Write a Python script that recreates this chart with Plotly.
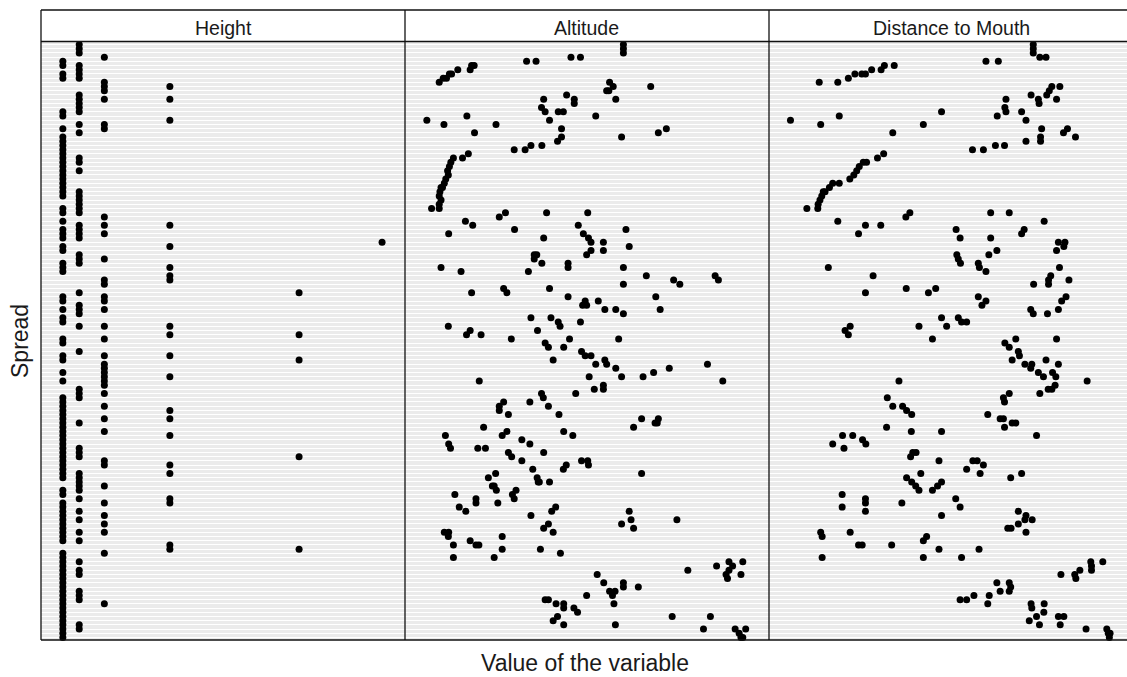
import plotly.graph_objects as go

# ---------------- data ----------------
N_SPREAD = 142
panel_titles = ["Height", "Altitude", "Distance to Mouth"]

# Height takes a few discrete values; rows (Spread levels) for each value
height_levels = [6.0, 10.5, 17.4, 35.4, 70.9, 93.7]
height_rows_6_0 = [5, 6, 8, 9, 17, 18, 21, 23, 24, 25, 26, 27, 28, 29, 30, 31, 32, 33, 34, 35,
                   36, 37, 40, 41, 43, 45, 46, 47, 49, 50, 53, 54, 55, 61, 62, 64, 66, 67, 71, 72,
                   75, 76, 79, 81, 85, 86, 87, 88, 89, 90, 91, 92, 93, 94, 95, 96, 97, 98, 99, 100,
                   101, 102, 103, 104, 107, 108, 110, 111, 112, 113, 114, 115, 116, 117, 118, 119,
                   122, 123, 124, 125, 126, 127, 128, 129, 130, 131, 132, 133, 134, 135, 136, 137,
                   138, 139, 140, 141, 142]
height_rows_10_5 = [1, 2, 3, 6, 7, 8, 9, 13, 14, 15, 16, 17, 20, 22, 28, 29, 31, 36, 37, 38, 39,
                    40, 41, 44, 45, 46, 47, 51, 52, 53, 60, 63, 64, 65, 68, 74, 83, 84, 85, 91, 97,
                    98, 99, 103, 104, 105, 106, 107, 109, 112, 114, 117, 119, 124, 126, 127, 131,
                    132, 133, 139, 140]
height_rows_17_4 = [4, 10, 11, 12, 14, 20, 21, 42, 44, 46, 52, 57, 58, 61, 62, 64, 68, 71, 75, 77,
                    78, 79, 80, 81, 82, 84, 87, 90, 93, 100, 101, 106, 110, 113, 115, 117, 122, 134]
height_rows_35_4 = [11, 14, 19, 44, 49, 54, 56, 57, 68, 70, 75, 80, 88, 90, 94, 101, 103, 109,
                    110, 120, 121]
height_rows_70_9 = [60, 70, 76, 99, 121]
height_rows_93_7 = [48]
height_rows = [height_rows_6_0, height_rows_10_5, height_rows_17_4,
               height_rows_35_4, height_rows_70_9, height_rows_93_7]

# Altitude: (spread row, value)
altitude_points = [
    (1, 60.0), (2, 60.0), (3, 60.0), (4, 45.6), (4, 48.2), (5, 33.4), (5, 36.0),
    (6, 19.0), (6, 18.3), (7, 17.9), (7, 14.5), (8, 12.8), (8, 12.2), (9, 11.4), (9, 10.5),
    (10, 9.4), (10, 56.2), (11, 57.2), (12, 56.0), (12, 55.4), (11, 67.5), (13, 44.4),
    (14, 38.1), (14, 46.5), (15, 46.5), (14, 57.9), (16, 37.5), (17, 38.5), (17, 42.1),
    (17, 43.5), (18, 17.0), (18, 52.4), (19, 39.7), (19, 6.0), (20, 10.7), (20, 25.0),
    (21, 43.0), (21, 71.8), (22, 69.6), (22, 19.1), (23, 59.5), (23, 43.0), (24, 41.9),
    (25, 37.6), (25, 34.6), (26, 33.0), (26, 30.0), (27, 17.4), (28, 15.8),
    (28, 13.3), (29, 12.6), (30, 12.2), (31, 11.7), (32, 11.9), (33, 11.2), (34, 10.8),
    (35, 10.3), (35, 9.9), (36, 9.6), (37, 9.4), (38, 9.9), (39, 9.4), (40, 9.4),
    (40, 7.3), (41, 38.9), (41, 50.2), (41, 27.6), (42, 25.9), (43, 16.6), (44, 18.6),
    (44, 47.6), (45, 60.7), (45, 30.1), (46, 12.0), (47, 38.1), (46, 49.0), (47, 50.4),
    (48, 51.1), (48, 54.5), (50, 54.5), (50, 51.1), (49, 61.6), (51, 49.9), (51, 35.5),
    (51, 36.2), (52, 35.5), (53, 37.6), (53, 44.8), (54, 44.8), (54, 9.9), (55, 15.4),
    (55, 33.9), (54, 60.0), (56, 66.3), (57, 73.8), (58, 75.5), (56, 85.2), (57, 86.1),
    (58, 60.0), (59, 27.1), (60, 28.0), (60, 18.3), (59, 39.7), (61, 44.8), (62, 53.1),
    (61, 68.9), (62, 49.5), (63, 49.9), (63, 48.8), (64, 70.1), (64, 54.9), (64, 57.9),
    (65, 60.0), (66, 40.1), (67, 42.1), (68, 42.6), (66, 34.6), (67, 48.2), (69, 36.4),
    (68, 11.9), (70, 16.9), (69, 17.9), (70, 20.9), (71, 29.2), (71, 58.7), (72, 38.5),
    (73, 39.4), (71, 45.2), (73, 43.6), (74, 48.5), (75, 49.5), (75, 51.1), (76, 40.7),
    (76, 54.9), (77, 55.4), (77, 52.4), (77, 83.1), (78, 57.9), (78, 72.6), (79, 68.3),
    (80, 59.5), (80, 65.4), (80, 50.6), (81, 87.3), (81, 20.4), (82, 54.5), (83, 54.5),
    (83, 52.0), (84, 46.9), (84, 37.5), (85, 38.0), (86, 27.1), (86, 34.3), (87, 39.4),
    (87, 25.9), (88, 25.9), (89, 28.4), (89, 42.3), (90, 65.0), (90, 69.6), (91, 68.7),
    (91, 69.3), (92, 62.8), (92, 21.6), (93, 28.0), (94, 26.7), (93, 43.6), (94, 46.1),
    (94, 11.1), (96, 12.0), (95, 32.1), (96, 34.3), (97, 12.5), (97, 20.0), (97, 22.1),
    (98, 28.4), (99, 29.3), (100, 32.1), (98, 38.1), (100, 48.5), (100, 50.2), (101, 50.4),
    (101, 44.3), (102, 43.5), (103, 65.0), (102, 35.1), (104, 36.3), (105, 36.6),
    (105, 36.9), (105, 39.7), (104, 22.9), (103, 24.9), (106, 24.0), (106, 24.5),
    (107, 25.1), (108, 29.5), (107, 30.5), (108, 13.7), (109, 19.5), (110, 19.5),
    (110, 25.5), (109, 30.0), (111, 14.9), (112, 16.7), (111, 41.4), (112, 40.3),
    (113, 34.6), (112, 61.6), (114, 62.1), (115, 59.5), (116, 62.8), (114, 74.7),
    (116, 38.1), (115, 39.4), (117, 40.7), (117, 10.8), (117, 12.0), (118, 11.9),
    (120, 13.3), (119, 17.9), (120, 20.3), (120, 19.5), (118, 26.7), (121, 26.7),
    (123, 24.5), (123, 13.3), (121, 37.2), (122, 42.7), (127, 52.8), (129, 54.6),
    (129, 60.0), (130, 60.0), (130, 64.1), (131, 56.2), (131, 57.7), (132, 57.0),
    (134, 57.4), (132, 49.9), (133, 38.5), (133, 39.4), (134, 41.5), (134, 43.6),
    (135, 43.6), (135, 46.4), (136, 47.4), (138, 40.7), (137, 41.9), (139, 43.6),
    (139, 57.8), (137, 73.4), (137, 83.9), (126, 77.7), (125, 85.6), (124, 89.0),
    (124, 92.8), (126, 89.0), (125, 90.0), (127, 88.2), (128, 88.6), (127, 92.3),
    (140, 82.0), (140, 90.7), (141, 91.8), (142, 92.8), (142, 92.3), (140, 93.6),
]

# Distance to Mouth: (spread row, value)
distance_points = [
    (1, 72.6), (2, 72.6), (3, 72.6), (4, 74.4), (4, 76.1), (5, 59.6), (5, 63.0),
    (6, 34.4), (6, 31.7), (7, 30.8), (7, 28.2), (8, 26.5), (8, 25.5), (8, 23.6),
    (9, 21.8), (10, 18.9), (10, 13.8), (11, 77.7), (12, 77.0), (13, 76.3), (11, 79.9),
    (14, 79.0), (13, 72.0), (14, 65.1), (14, 74.0), (15, 74.2), (16, 64.8), (17, 65.1),
    (17, 69.4), (19, 70.6), (18, 62.7), (17, 47.4), (18, 19.3), (19, 5.9), (20, 14.2),
    (20, 42.4), (21, 74.9), (23, 74.6), (24, 74.6), (21, 82.0), (22, 80.9), (23, 84.2),
    (22, 34.0), (24, 70.6), (25, 64.7), (25, 62.2), (26, 58.9), (26, 55.9), (27, 31.5),
    (28, 29.8), (29, 26.8), (29, 25.9), (30, 24.8), (31, 24.1), (32, 23.3), (33, 22.2),
    (34, 19.3), (34, 17.5), (35, 16.6), (36, 15.4), (36, 14.9), (37, 14.5), (38, 14.0),
    (39, 13.5), (40, 13.4), (40, 10.4), (41, 60.9), (41, 66.0), (41, 38.7), (42, 37.6),
    (43, 75.6), (43, 18.9), (44, 26.5), (44, 30.7), (46, 24.6), (45, 51.4), (47, 52.5),
    (45, 70.1), (46, 69.4), (47, 60.9), (48, 79.5), (48, 81.3), (49, 81.0), (50, 79.0),
    (50, 62.6), (51, 60.4), (51, 51.6), (52, 52.0), (53, 52.6), (53, 57.5), (54, 57.8),
    (55, 59.6), (54, 16.3), (56, 28.6), (54, 79.8), (56, 77.4), (57, 76.8), (58, 76.8),
    (57, 82.4), (58, 72.7), (60, 26.5), (59, 37.7), (60, 43.8), (59, 45.8), (61, 57.5),
    (63, 58.5), (62, 59.6), (61, 81.6), (62, 80.4), (64, 79.5), (65, 76.5), (64, 71.9),
    (65, 72.6), (66, 47.4), (68, 48.8), (66, 52.0), (67, 52.9), (67, 54.3), (68, 41.2),
    (71, 44.9), (68, 22.3), (69, 20.9), (70, 21.8), (71, 67.8), (71, 79.0), (72, 64.8),
    (73, 66.0), (74, 68.5), (75, 68.8), (76, 66.8), (76, 76.1), (77, 79.5), (77, 70.3),
    (77, 72.2), (78, 71.9), (79, 74.0), (79, 77.9), (80, 78.8), (80, 75.4), (81, 87.4),
    (82, 78.6), (83, 77.7), (83, 76.7), (84, 74.4), (85, 64.4), (84, 66.0), (86, 64.7),
    (81, 35.7), (85, 32.5), (87, 34.0), (87, 36.7), (88, 37.8), (89, 39.2), (89, 60.1),
    (90, 63.5), (90, 64.4), (92, 64.7), (91, 66.8), (91, 67.8), (92, 32.3), (93, 39.1),
    (93, 47.4), (94, 73.5), (94, 20.2), (94, 23.0), (96, 17.5), (97, 20.6), (95, 25.7),
    (96, 26.6), (98, 39.5), (98, 40.4), (99, 38.9), (100, 46.7), (100, 56.0), (100, 57.2),
    (101, 58.9), (102, 54.3), (103, 58.0), (103, 69.4), (104, 66.4), (103, 41.7),
    (104, 37.8), (105, 39.2), (106, 40.3), (107, 41.2), (105, 47.4), (106, 46.3),
    (107, 44.9), (108, 20.1), (111, 20.1), (109, 26.5), (110, 26.5), (112, 26.5),
    (110, 36.5), (109, 51.3), (111, 52.5), (113, 47.4), (112, 68.5), (113, 70.6),
    (114, 72.3), (114, 70.3), (115, 68.5), (116, 65.6), (116, 66.5), (117, 70.6),
    (117, 14.2), (118, 14.6), (117, 22.3), (120, 24.6), (120, 25.6), (120, 33.7),
    (118, 43.3), (119, 42.4), (121, 46.7), (121, 57.7), (123, 52.9), (123, 14.6),
    (123, 42.4), (127, 80.2), (126, 85.4), (127, 84.0), (128, 84.3), (124, 88.4),
    (125, 88.6), (126, 88.6), (124, 91.7), (129, 62.6), (131, 63.5), (129, 66.0),
    (130, 66.4), (131, 66.0), (132, 60.5), (134, 60.1), (133, 52.5), (133, 54.3),
    (132, 56.3), (134, 72.0), (135, 72.2), (137, 73.5), (138, 71.5), (139, 74.3),
    (134, 75.6), (136, 75.5), (137, 79.5), (137, 81.0), (139, 80.0), (140, 87.1),
    (140, 92.8), (141, 93.2), (141, 93.7), (142, 93.5),
]

# ---------------- build series ----------------
height_spread, height_value = [], []
for lvl, rows in zip(height_levels, height_rows):
    for r in rows:
        height_spread.append(r)
        height_value.append(lvl)

altitude_spread = [p[0] for p in altitude_points]
altitude_value = [p[1] for p in altitude_points]
distance_spread = [p[0] for p in distance_points]
distance_value = [p[1] for p in distance_points]

series = [(height_value, height_spread), (altitude_value, altitude_spread),
          (distance_value, distance_spread)]

# ---------------- layout geometry ----------------
W, H = 1127, 677
ML, MR, MT, MB = 41, 0, 10, 37
plot_w = W - ML - MR
plot_h = H - MT - MB
panel_px = 364
strip_px = 32
x_edges = [0, panel_px / plot_w, 2 * panel_px / plot_w, 1.0]
y_top = (plot_h - strip_px) / plot_h
x_ranges = [[0, 100], [0, 100], [0, 100 * (plot_w - 2 * panel_px) / panel_px]]

FONT = "Liberation Sans, Arial, Helvetica, sans-serif"
LINE = "#111111"

fig = go.Figure()
for i, (xv, yv) in enumerate(series):
    sfx = "" if i == 0 else str(i + 1)
    fig.add_trace(go.Scatter(
        x=xv, y=yv, mode="markers",
        marker=dict(color="black", size=7, line=dict(width=0)),
        xaxis="x" + sfx, yaxis="y" + sfx, showlegend=False, hoverinfo="skip",
        cliponaxis=False,
    ))

layout = dict(
    width=W, height=H,
    margin=dict(l=ML, r=MR, t=MT, b=MB, pad=0),
    paper_bgcolor="white", plot_bgcolor="#EBEBEB",
    font=dict(family=FONT, color="black"),
    showlegend=False,
)
for i in range(3):
    sfx = "" if i == 0 else str(i + 1)
    layout["xaxis" + sfx] = dict(
        domain=[x_edges[i], x_edges[i + 1]], range=x_ranges[i], anchor="y" + sfx,
        showgrid=False, zeroline=False, showticklabels=False, ticks="", showline=False,
    )
    layout["yaxis" + sfx] = dict(
        domain=[0, y_top], range=[N_SPREAD + 0.6, 0.4], anchor="x" + sfx,
        tickmode="linear", tick0=1, dtick=1,
        showgrid=True, gridcolor="white", gridwidth=1,
        zeroline=False, showticklabels=False, ticks="", showline=False,
    )
fig.update_layout(**layout)

# frame lines (strips + panels); panel 3 continues past the right edge
shapes = []
strip_bottom = y_top + 0.5 / plot_h
lw = 1.3
shapes.append(dict(type="line", xref="paper", yref="paper", x0=0, x1=1, y0=1, y1=1,
                   line=dict(color=LINE, width=lw)))
shapes.append(dict(type="line", xref="paper", yref="paper", x0=0, x1=1,
                   y0=strip_bottom, y1=strip_bottom, line=dict(color=LINE, width=lw)))
shapes.append(dict(type="line", xref="paper", yref="paper", x0=0, x1=1, y0=0, y1=0,
                   line=dict(color=LINE, width=lw)))
for xe in x_edges[:3]:
    shapes.append(dict(type="line", xref="paper", yref="paper", x0=xe, x1=xe, y0=0, y1=1,
                       line=dict(color=LINE, width=lw)))
fig.update_layout(shapes=shapes)

ann = []
strip_center = (plot_h - strip_px / 2 - 2) / plot_h
for i, t in enumerate(panel_titles):
    ann.append(dict(text=t, xref="paper", yref="paper",
                    x=(x_edges[i] + x_edges[i] + panel_px / plot_w) / 2, y=strip_center,
                    xanchor="center", yanchor="middle", showarrow=False,
                    font=dict(size=19.5, color="#1a1a1a", family=FONT)))
ann.append(dict(text="Value of the variable", xref="paper", yref="paper",
                x=(585 - ML) / plot_w, y=-23 / plot_h, xanchor="center", yanchor="middle",
                showarrow=False, font=dict(size=23, color="#1a1a1a", family=FONT)))
ann.append(dict(text="Spread", xref="paper", yref="paper",
                x=-21 / plot_w, y=0.4746, xanchor="center", yanchor="middle",
                textangle=-90, showarrow=False,
                font=dict(size=23, color="#1a1a1a", family=FONT)))
fig.update_layout(annotations=ann)

fig.write_html("out.html")
